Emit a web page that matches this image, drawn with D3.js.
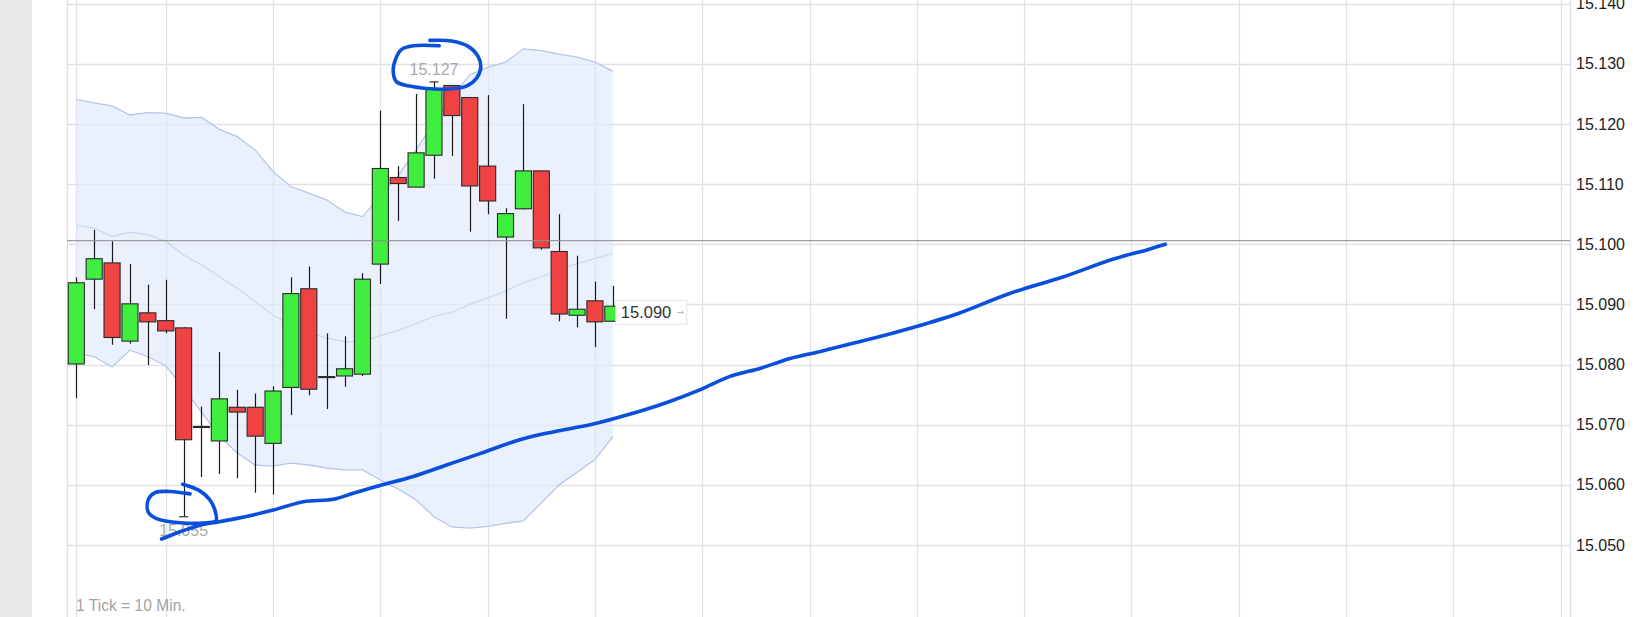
<!DOCTYPE html>
<html>
<head>
<meta charset="utf-8">
<script src="https://cdn.jsdelivr.net/npm/d3@7"></script>
<style>
  html, body { margin: 0; padding: 0; background: #fff; }
  svg { display: block; }
</style>
</head>
<body>
<svg id="chart" width="1643" height="617"></svg>
<script>
// ---------------- DATA ----------------
const candleIndex = d3.range(31); // 1 tick = 10 min
const openV  = [15.0801,15.0942,15.0969,15.0839,15.0886,15.0873,15.0861,15.0697,15.0673,15.0729,15.0729,15.0669,15.0762,15.0926,15.0780,15.0781,15.0784,15.0967,15.1111,15.1095,15.1148,15.1264,15.1244,15.1130,15.1012,15.1059,15.1122,15.0988,15.0882,15.0906,15.0872];
const highV  = [15.0945,15.1024,15.1005,15.0967,15.0933,15.0941,15.0862,15.0730,15.0821,15.0758,15.0752,15.0764,15.0945,15.0963,15.0852,15.0847,15.0952,15.1222,15.1130,15.1250,15.1270,15.1265,15.1245,15.1248,15.1060,15.1233,15.1123,15.1050,15.0981,15.0938,15.0931];
const lowV   = [15.0744,15.0892,15.0833,15.0835,15.0799,15.0852,15.0547,15.0613,15.0618,15.0611,15.0587,15.0584,15.0716,15.0749,15.0726,15.0763,15.0781,15.0934,15.1039,15.1095,15.1109,15.1147,15.1021,15.1050,15.0876,15.1058,15.0991,15.0872,15.0862,15.0829,15.0872];
const closeV = [15.0936,15.0976,15.0845,15.0901,15.0871,15.0856,15.0675,15.0697,15.0743,15.0721,15.0681,15.0756,15.0918,15.0759,15.0780,15.0793,15.0942,15.1126,15.1101,15.1152,15.1259,15.1214,15.1097,15.1072,15.1051,15.1122,15.0994,15.0884,15.0892,15.0871,15.0897];

const bbUpper  = [15.1241,15.1235,15.1230,15.1215,15.1219,15.1218,15.1210,15.1211,15.1191,15.1179,15.1157,15.1121,15.1096,15.1085,15.1074,15.1054,15.1046,15.1080,15.1114,15.1157,15.1203,15.1245,15.1282,15.1294,15.1303,15.1325,15.1322,15.1316,15.1311,15.1303,15.1288];
const bbMiddle = [15.1032,15.1027,15.1013,15.1020,15.1016,15.1005,15.0982,15.0966,15.0946,15.0927,15.0905,15.0882,15.0866,15.0854,15.0844,15.0838,15.0838,15.0848,15.0857,15.0868,15.0880,15.0887,15.0900,15.0911,15.0922,15.0936,15.0946,15.0957,15.0968,15.0976,15.0985];
const bbLower  = [15.0819,15.0813,15.0796,15.0824,15.0813,15.0798,15.0761,15.0721,15.0681,15.0653,15.0633,15.0631,15.0636,15.0633,15.0628,15.0625,15.0625,15.0608,15.0593,15.0575,15.0547,15.0530,15.0528,15.0531,15.0536,15.0540,15.0570,15.0600,15.0621,15.0642,15.0680];

const yTickValues = [15.05,15.06,15.07,15.08,15.09,15.10,15.11,15.12,15.13,15.14];
const gridIndices = [0,5,11,17,23,29,35,41,47,53,59,65,71,77,83];
const referenceLine = 15.1006;
const footnote = "1 Tick = 10 Min.";

// hand-drawn annotations (index, value)
const trendIdx = [4.77,5.80,6.91,7.66,8.78,9.89,11.01,12.69,14.37,15.48,16.98,18.84,20.70,22.57,24.80,26.66,28.90,30.78,33.02,34.86,36.52,38.27,39.91,41.48,44.62,46.58,49.32,52.07,55.20,57.95,59.90,60.89];
const trendVal = [15.0510,15.0522,15.0533,15.0537,15.0543,15.0550,15.0558,15.0572,15.0576,15.0586,15.0599,15.0614,15.0633,15.0652,15.0675,15.0688,15.0701,15.0716,15.0737,15.0758,15.0780,15.0794,15.0810,15.0821,15.0844,15.0860,15.0885,15.0917,15.0946,15.0975,15.0991,15.1000];
const topLoopIdx = [19.77,20.98,21.91,22.47,22.62,22.38,21.82,20.70,19.59,18.65,17.91,17.72,17.87,18.19,18.84,20.29];
const topLoopVal = [15.1339,15.1338,15.1329,15.1312,15.1295,15.1276,15.1263,15.1258,15.1259,15.1263,15.1270,15.1287,15.1309,15.1324,15.1330,15.1330];
const lowLoopIdx = [6.36,5.24,4.40,4.02,4.02,4.49,5.80,7.29,7.81,7.75,7.47,6.91,5.95];
const lowLoopVal = [15.0585,15.0589,15.0587,15.0575,15.0555,15.0544,15.0537,15.0537,15.0540,15.0558,15.0575,15.0590,15.0601];

// ---------------- LAYOUT ----------------
const svg = d3.select("#chart");
const W = 1643, H = 617;
const plotL = 67, plotR = 1570;

const x = d3.scaleLinear().domain([-0.52, 83.52]).range([plotL, plotR]);
const y = d3.scaleLinear().domain([15.05, 15.14]).range([545, 3.7]);
const step = x(1) - x(0);
const bodyW = step * 0.9;

// left gray strip
svg.append("rect").attr("x", 0).attr("y", 0).attr("width", 32).attr("height", H).attr("fill", "#e9e9e9");

// horizontal grid
svg.append("g").selectAll("line").data(yTickValues).join("line")
  .attr("x1", plotL).attr("x2", plotR)
  .attr("y1", d => Math.round(y(d)) + 0.5).attr("y2", d => Math.round(y(d)) + 0.5)
  .attr("stroke", "#e1e1e4").attr("stroke-width", 1.5);

// vertical grid
svg.append("g").selectAll("line").data(gridIndices).join("line")
  .attr("x1", d => Math.round(x(d)) + 0.5).attr("x2", d => Math.round(x(d)) + 0.5)
  .attr("y1", 0).attr("y2", H)
  .attr("stroke", "#dfe1e6").attr("stroke-width", 1.3);
svg.append("g").selectAll("line").data([plotL, plotR]).join("line")
  .attr("x1", d => d + 0.5).attr("x2", d => d + 0.5)
  .attr("y1", 0).attr("y2", H)
  .attr("stroke", "#dcdde2").attr("stroke-width", 1.3);

// y axis labels
const yAxis = d3.axisRight(y).tickValues(yTickValues).tickFormat(d3.format(".3f")).tickSize(0).tickPadding(0);
const gy = svg.append("g").attr("transform", `translate(1576,0)`).call(yAxis);
gy.select(".domain").remove();
gy.selectAll("text").attr("font-family", "Liberation Sans, Arial, sans-serif").attr("font-size", 16).attr("fill", "#222");

// Bollinger band
const bandData = candleIndex.map(i => ({i, u: bbUpper[i], m: bbMiddle[i], l: bbLower[i]}));
svg.append("path").datum(bandData)
  .attr("d", d3.area().x(d => x(d.i)).y0(d => y(d.l)).y1(d => y(d.u)))
  .attr("fill", "#dfe8fb").attr("fill-opacity", 0.65);
[["u", "#b8c6e6"], ["m", "#cdd8f0"], ["l", "#b8c6e6"]].forEach(([k, c]) => {
  svg.append("path").datum(bandData)
    .attr("d", d3.line().x(d => x(d.i)).y(d => y(d[k])))
    .attr("fill", "none").attr("stroke", c).attr("stroke-width", 1.3);
});

// candles
const candles = candleIndex.map(i => ({i, o: openV[i], h: highV[i], l: lowV[i], c: closeV[i]}));
const cg = svg.append("g");
cg.selectAll("line.wick").data(candles).join("line").attr("class", "wick")
  .attr("x1", d => Math.round(x(d.i)) + 0.5).attr("x2", d => Math.round(x(d.i)) + 0.5)
  .attr("y1", d => y(d.h)).attr("y2", d => y(d.l))
  .attr("stroke", "#1a1a1a").attr("stroke-width", 1.2);
cg.selectAll("rect").data(candles).join("rect")
  .attr("x", d => x(d.i) - bodyW / 2)
  .attr("width", bodyW)
  .attr("y", d => y(Math.max(d.o, d.c)))
  .attr("height", d => Math.max(1, Math.abs(y(d.o) - y(d.c))))
  .attr("fill", d => d.c > d.o ? "#40ee40" : (d.c < d.o ? "#ef4343" : "#333"))
  .attr("stroke", "#2a2a2a").attr("stroke-width", 1.1);

// reference (previous close) line
svg.append("line").attr("x1", plotL).attr("x2", plotR)
  .attr("y1", y(referenceLine)).attr("y2", y(referenceLine))
  .attr("stroke", "#8e8e8e").attr("stroke-width", 1.4).attr("opacity", 0.85);

// max / min markers and labels
const maxI = d3.maxIndex(highV), minI = d3.minIndex(lowV);
const fmt = d3.format(".3f");
[[maxI, highV[maxI], -6.5], [minI, lowV[minI], 19]].forEach(([i, v, dy]) => {
  svg.append("line").attr("x1", x(i) - 4.5).attr("x2", x(i) + 4.5)
    .attr("y1", y(v)).attr("y2", y(v)).attr("stroke", "#333").attr("stroke-width", 1.2);
  svg.append("text").attr("x", x(i)).attr("y", y(v) + dy)
    .attr("text-anchor", "middle")
    .attr("font-family", "Liberation Sans, Arial, sans-serif").attr("font-size", 16)
    .attr("fill", "#a9a9a9").text(fmt(v));
});

// last price label
const last = candles[candles.length - 1];
const lx = x(last.i) + 3, ly = y(last.c) + 6;
svg.append("rect").attr("x", lx).attr("y", ly - 12).attr("width", 71).attr("height", 24)
  .attr("fill", "#fff").attr("stroke", "#e2e2e2").attr("stroke-width", 1);
svg.append("text").attr("x", lx + 5).attr("y", ly).attr("dy", "0.35em")
  .attr("font-family", "Liberation Sans, Arial, sans-serif").attr("font-size", 16.5)
  .attr("fill", "#333").text(fmt(last.c));
svg.append("text").attr("x", lx + 61).attr("y", ly).attr("dy", "0.35em")
  .attr("font-family", "DejaVu Sans, sans-serif").attr("font-size", 9)
  .attr("fill", "#b0b0b0").text("→");

// footnote
svg.append("text").attr("x", 76).attr("y", 611)
  .attr("font-family", "Liberation Sans, Arial, sans-serif").attr("font-size", 15.6)
  .attr("fill", "#a3a3a3").text(footnote);

// hand-drawn annotations
const pen = d3.line().x(d => x(d[0])).y(d => y(d[1])).curve(d3.curveCatmullRom.alpha(0.5));
const ann = svg.append("g").attr("fill", "none").attr("stroke", "#0a4fdb")
  .attr("stroke-width", 3.6).attr("stroke-linecap", "round").attr("stroke-linejoin", "round");
ann.append("path").attr("d", pen(d3.zip(trendIdx, trendVal)));
ann.append("path").attr("d", pen(d3.zip(topLoopIdx, topLoopVal)));
ann.append("path").attr("d", pen(d3.zip(lowLoopIdx, lowLoopVal)));
</script>
</body>
</html>
